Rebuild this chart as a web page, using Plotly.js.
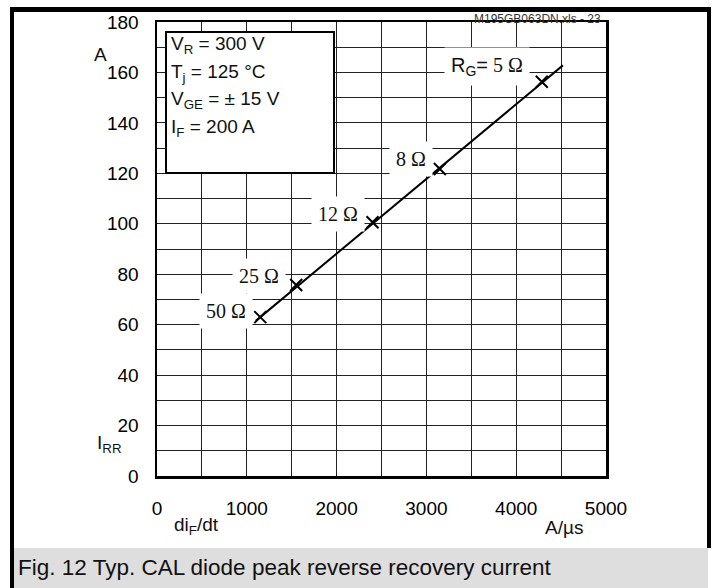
<!DOCTYPE html>
<html>
<head>
<meta charset="utf-8">
<script src="https://cdn.plot.ly/plotly-3.0.1.min.js"></script>
<style>
html,body{margin:0;padding:0;background:#fff;}
#chart{width:717px;height:588px;}
</style>
</head>
<body>
<div id="chart"></div>
<script>
// Data
const rgLabels = ['50 Ω', '25 Ω', '12 Ω', '8 Ω', 'R<sub>G</sub>= 5 Ω'];
const diFdt = [1150, 1550, 2400, 3150, 4285];     // A/µs
const iRR = [63, 75.7, 100.6, 121.7, 156.3];      // A
const fitX = [1100, 4520];
const fitY = [61.5, 162.8];
const labelX = [768, 1136, 2016, 2829, 3675];
const labelY = [65.4, 79.3, 103.9, 125.7, 162.2];
const xTicks = [0, 1000, 2000, 3000, 4000, 5000];
const yTicks = [0, 20, 40, 60, 80, 100, 120, 140, 160, 180];
const condLines = ['V<sub>R</sub> = 300 V', 'T<sub>j</sub> = 125 °C', 'V<sub>GE</sub> = ± 15 V', 'I<sub>F</sub> = 200 A'];

const W = 717, H = 588, L = 157, R = 606, T = 22, B = 476;
const px = v => (v - L) / (R - L);
const py = v => (B - v) / (B - T);

const sans = 'Liberation Sans, Arial, sans-serif';
const serif = 'Liberation Serif, Times New Roman, serif';

const traces = [
  {x: fitX, y: fitY, mode: 'lines', line: {color: '#000', width: 2}, hoverinfo: 'skip', showlegend: false},
  {x: diFdt, y: iRR, mode: 'markers', marker: {symbol: 'x-thin', size: 12, line: {color: '#000', width: 2}}, showlegend: false}
];

const annotations = rgLabels.map((t, i) => ({
  x: labelX[i], y: labelY[i], xref: 'x', yref: 'y', xanchor: 'center', yanchor: 'middle', showarrow: false,
  text: i === 4 ? '<span style="font-family:Liberation Sans,Arial">R<sub>G</sub>=</span> 5 Ω' : t,
  font: {family: serif, size: 20, color: '#111'},
  bgcolor: '#fff', borderpad: 6
}));

const condY = [45, 72.5, 100, 128];
condLines.forEach((t, i) => annotations.push({
  x: px(169), y: py(condY[i]), xref: 'paper', yref: 'paper', xanchor: 'left', yanchor: 'middle', showarrow: false,
  text: t, font: {family: sans, size: 19, color: '#111'}
}));

const txt = (t, x, y, size, xa, color) => ({
  x: px(x), y: py(y), xref: 'paper', yref: 'paper', xanchor: xa || 'center', yanchor: 'middle',
  showarrow: false, text: t, font: {family: sans, size: size, color: color || '#111'}
});

annotations.push(
  txt('M195GB063DN.xls - 23', 603, 19, 12, 'right', '#333'),
  txt('A', 100, 54, 19),
  txt('I<sub>RR</sub>', 109, 444, 19),
  txt('di<sub>F</sub>/dt', 196, 526, 19),
  txt('A/µs', 564, 527, 19),
  txt('Fig. 12 Typ. CAL diode peak reverse recovery current', 16, 567, 22.5, 'left')
);

const shapes = [
  // caption band
  {type: 'rect', xref: 'paper', yref: 'paper', x0: px(14), x1: px(708), y0: py(548), y1: py(588),
   fillcolor: '#dedede', line: {width: 0}, layer: 'below'},
  // outer frame
  {type: 'rect', xref: 'paper', yref: 'paper', x0: px(10), x1: px(711), y0: py(7), y1: py(12),
   fillcolor: '#000', line: {width: 0}},
  {type: 'rect', xref: 'paper', yref: 'paper', x0: px(10), x1: px(14), y0: py(7), y1: py(588),
   fillcolor: '#000', line: {width: 0}},
  {type: 'rect', xref: 'paper', yref: 'paper', x0: px(707), x1: px(711), y0: py(7), y1: py(548),
   fillcolor: '#000', line: {width: 0}},
  // conditions box
  {type: 'rect', xref: 'paper', yref: 'paper', x0: px(166), x1: px(334), y0: py(32), y1: py(173),
   fillcolor: '#fff', line: {color: '#000', width: 2}, layer: 'above'}
];

const layout = {
  width: W, height: H,
  margin: {l: L, r: W - R, t: T, b: H - B, pad: 0},
  paper_bgcolor: 'rgba(0,0,0,0)', plot_bgcolor: '#fff',
  showlegend: false,
  xaxis: {
    range: [0, 5000], tickvals: xTicks, ticktext: xTicks.map(String),
    showgrid: true, gridcolor: '#222', gridwidth: 1,
    minor: {dtick: 500, showgrid: true, gridcolor: '#222', gridwidth: 1},
    showline: true, linecolor: '#000', linewidth: 2.5, mirror: true,
    ticks: '', ticklabelstandoff: 14, zeroline: false,
    tickfont: {family: sans, size: 19, color: '#000'}, fixedrange: true
  },
  yaxis: {
    range: [0, 180], tickvals: yTicks, ticktext: yTicks.map(String),
    showgrid: true, gridcolor: '#222', gridwidth: 1,
    minor: {dtick: 10, showgrid: true, gridcolor: '#222', gridwidth: 1},
    showline: true, linecolor: '#000', linewidth: 2.5, mirror: true,
    ticks: '', ticklabelstandoff: 12, zeroline: false,
    tickfont: {family: sans, size: 19, color: '#000'}, fixedrange: true
  },
  annotations: annotations,
  shapes: shapes
};

Plotly.newPlot('chart', traces, layout, {displayModeBar: false, staticPlot: true});
</script>
</body>
</html>
